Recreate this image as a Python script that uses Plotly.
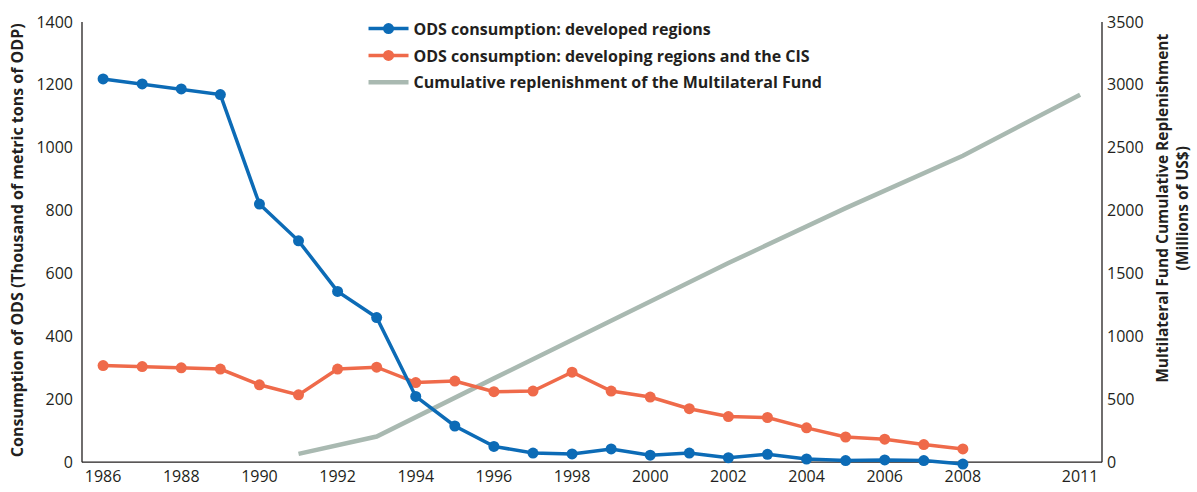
import plotly.graph_objects as go

# Years and series values
years = list(range(1986, 2009))
developed = [1219, 1203, 1187, 1169, 821, 704, 543, 460, 209, 115, 50, 29, 26, 42,
             22, 29, 14, 25, 10, 5, 7, 5, -6]
developing = [307, 304, 300, 296, 246, 214, 296, 302, 253, 258, 224, 226, 286, 226,
              207, 170, 145, 142, 109, 80, 73, 56, 42]

fund_years = [1991, 1993, 1996, 1999, 2002, 2005, 2008, 2011]
fund_cumulative = [66, 204, 666, 1124, 1583, 2020, 2437, 2922]

x_ticks = [1986, 1988, 1990, 1992, 1994, 1996, 1998, 2000, 2002, 2004, 2006, 2008, 2011]
left_ticks = [0, 200, 400, 600, 800, 1000, 1200, 1400]
right_ticks = [0, 500, 1000, 1500, 2000, 2500, 3000, 3500]

LEFT_MAX, RIGHT_MAX = 1400, 3500
PAD = 25 / LEFT_MAX  # small room below zero so markers near the baseline are not cut

BLUE = "#0c6bb6"
ORANGE = "#ef6a4a"
GREY = "#a9b9b1"
INK = "#231f20"
FONT = "Open Sans"

fig = go.Figure()

# Replenishment line sits on the primary (right-side) axis so it renders beneath the ODS lines
fig.add_trace(go.Scatter(
    x=fund_years, y=fund_cumulative, mode="lines",
    line=dict(color=GREY, width=4.5),
    name="Cumulative replenishment of the Multilateral Fund",
    yaxis="y", legendrank=3, legendgroup="c",
))
fig.add_trace(go.Scatter(
    x=years, y=developing, mode="lines+markers",
    line=dict(color=ORANGE, width=3.5), marker=dict(color=ORANGE, size=11),
    name="ODS consumption: developing regions and the CIS",
    yaxis="y2", legendrank=2, legendgroup="b",
))
fig.add_trace(go.Scatter(
    x=years, y=developed, mode="lines+markers",
    line=dict(color=BLUE, width=3.5), marker=dict(color=BLUE, size=11),
    name="ODS consumption: developed regions",
    yaxis="y2", legendrank=1, legendgroup="a",
))

axis_common = dict(showgrid=False, zeroline=False, showline=False, ticks="",
                   automargin=False, tickfont=dict(family=FONT, size=16, color=INK))

# Frame: baseline at zero plus the two vertical axis lines
frame = dict(type="line", line=dict(color=INK, width=1.3), layer="below")
shapes = [
    dict(xref="paper", x0=0, x1=1, yref="y2", y0=0, y1=0, **frame),
    dict(xref="paper", x0=0, x1=0, yref="y2", y0=0, y1=LEFT_MAX, **frame),
    dict(xref="paper", x0=1, x1=1, yref="y2", y0=0, y1=LEFT_MAX, **frame),
]

fig.update_layout(
    width=1197, height=492,
    margin=dict(l=82, r=95, t=22, b=22, autoexpand=False),
    paper_bgcolor="white", plot_bgcolor="white",
    showlegend=True,
    legend=dict(
        x=0.276, y=1.023, xanchor="left", yanchor="top",
        bgcolor="rgba(0,0,0,0)", font=dict(family=FONT, size=16, color=INK, weight="bold"),
        itemwidth=40, tracegroupgap=3,
    ),
    xaxis=dict(range=[1985.46, 2011.56], tickvals=x_ticks, ticklabelstandoff=-5, **axis_common),
    yaxis=dict(range=[-PAD * RIGHT_MAX, RIGHT_MAX], tickvals=right_ticks, side="right",
               ticklabelstandoff=4, **axis_common),
    yaxis2=dict(range=[-PAD * LEFT_MAX, LEFT_MAX], tickvals=left_ticks, side="left",
                overlaying="y", ticklabelstandoff=8, **axis_common),
    shapes=shapes,
    annotations=[
        dict(text="Consumption of ODS (Thousand of metric tons of ODP)",
             xref="paper", yref="paper", x=-0.0637, y=0.513, textangle=-90,
             xanchor="center", yanchor="middle", showarrow=False,
             font=dict(family=FONT, size=16, color=INK, weight="bold")),
        dict(text="Multilateral Fund Cumulative Replenishment<br>(Millions of US$)",
             xref="paper", yref="paper", x=1.0685, y=0.585, textangle=-90,
             xanchor="center", yanchor="middle", showarrow=False,
             font=dict(family=FONT, size=15.5, color=INK, weight="bold")),
    ],
)

fig.write_html("out.html")
